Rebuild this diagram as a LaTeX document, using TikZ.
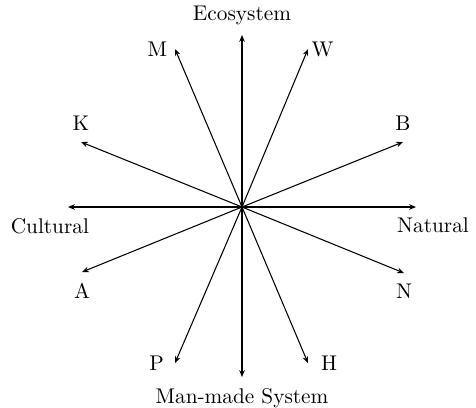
\documentclass[tikz,border=0pt]{standalone}
\usetikzlibrary{arrows.meta,positioning}

\begin{document}
\begin{tikzpicture}[
  x=0.47pt,
  y=0.47pt,
  >={Stealth[length=3.2pt,width=2.6pt]},
  axis/.style={->, line width=0.5pt},
  lbl/.style={font=\normalsize, inner sep=2pt}
]
  \useasboundingbox (-242,-200) rectangle (234,207);

  \coordinate (o) at (0,0);
  \coordinate (eco) at (0,172);
  \coordinate (man) at (0,-170);
  \coordinate (cul) at (-174,0);
  \coordinate (nat) at (174,0);
  \coordinate (m) at (-67,158);
  \coordinate (w) at (66,158);
  \coordinate (k) at (-161,65);
  \coordinate (b) at (161,65);
  \coordinate (a) at (-160,-65);
  \coordinate (n) at (162,-66);
  \coordinate (p) at (-67,-156);
  \coordinate (h) at (66,-156);

  \draw[axis] (o) -- (eco);
  \draw[axis] (o) -- (man);
  \draw[axis] (o) -- (cul);
  \draw[axis] (o) -- (nat);
  \draw[axis] (o) -- (m);
  \draw[axis] (o) -- (w);
  \draw[axis] (o) -- (k);
  \draw[axis] (o) -- (b);
  \draw[axis] (o) -- (a);
  \draw[axis] (o) -- (n);
  \draw[axis] (o) -- (p);
  \draw[axis] (o) -- (h);

  \node[lbl, above=2.5pt of eco] (ecolbl) {Ecosystem};
  \node[lbl, below=3pt of man] (manlbl) {Man-made System};
  \node[lbl, below=3pt of cul, xshift=-8.5pt] (cullbl) {Cultural};
  \node[lbl, below=3pt of nat, xshift=8pt] (natlbl) {Natural};
  \node[lbl, left=1.5pt of m] (mlbl) {M};
  \node[lbl, right=-0.5pt of w] (wlbl) {W};
  \node[lbl, above=3pt of k] (klbl) {K};
  \node[lbl, above=3pt of b] (blbl) {B};
  \node[lbl, below=3pt of a] (albl) {A};
  \node[lbl, below=3pt of n] (nlbl) {N};
  \node[lbl, left=3pt of p] (plbl) {P};
  \node[lbl, right=4pt of h] (hlbl) {H};
\end{tikzpicture}
\end{document}
